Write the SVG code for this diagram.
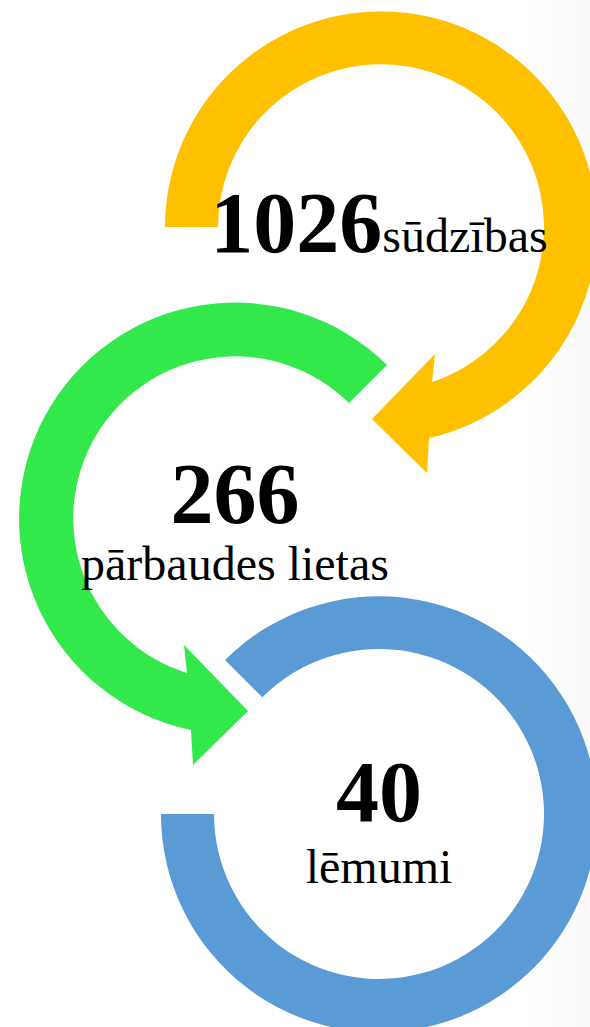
<svg xmlns="http://www.w3.org/2000/svg" width="590" height="1027" viewBox="0 0 590 1027">
  <defs>
    <linearGradient id="bg" x1="0" y1="0" x2="1" y2="0">
      <stop offset="0.88" stop-color="#ffffff"/>
      <stop offset="1" stop-color="#f9f9f9"/>
    </linearGradient>
    <style>
      .num { font-family: "Liberation Serif", "Times New Roman", serif; font-weight: bold; font-size: 86px; fill: #000; }
      .lbl { font-family: "Liberation Serif", "Times New Roman", serif; font-size: 48px; fill: #000; }
      .yellow { fill: #FFC000; }
      .green { fill: #32E84B; }
      .blue { fill: #5B9BD5; }
    </style>
  </defs>
  <rect x="0" y="0" width="590" height="1027" fill="url(#bg)"/>

  <g id="node-sudzibas">
    <path class="yellow" d="M165,227 A216,216 0 1 1 429,438 L427,473 L372,419 L435,354 L432,382 A163,163 0 1 0 218,227 Z"/>
    <text x="379" y="252" text-anchor="middle"><tspan class="num">1026</tspan><tspan class="lbl">sūdzības</tspan></text>
  </g>

  <g id="node-parbaudes">
    <path class="green" d="M387,365 A216,216 0 1 0 191,730 L193,765 L248,711 L184,645 L187,673 A162,162 0 1 1 349,403 Z"/>
    <text class="num" x="235" y="523" text-anchor="middle">266</text>
    <text class="lbl" x="235" y="580" text-anchor="middle">pārbaudes lietas</text>
  </g>

  <g id="node-lemumi">
    <path class="blue" d="M225,660 A218,218 0 1 1 161,814 L214,814 A165,165 0 1 0 262.3,697.3 Z"/>
    <text class="num" x="379" y="821" text-anchor="middle">40</text>
    <text class="lbl" x="379" y="883" text-anchor="middle">lēmumi</text>
  </g>

  <g id="connectors"></g>
</svg>
